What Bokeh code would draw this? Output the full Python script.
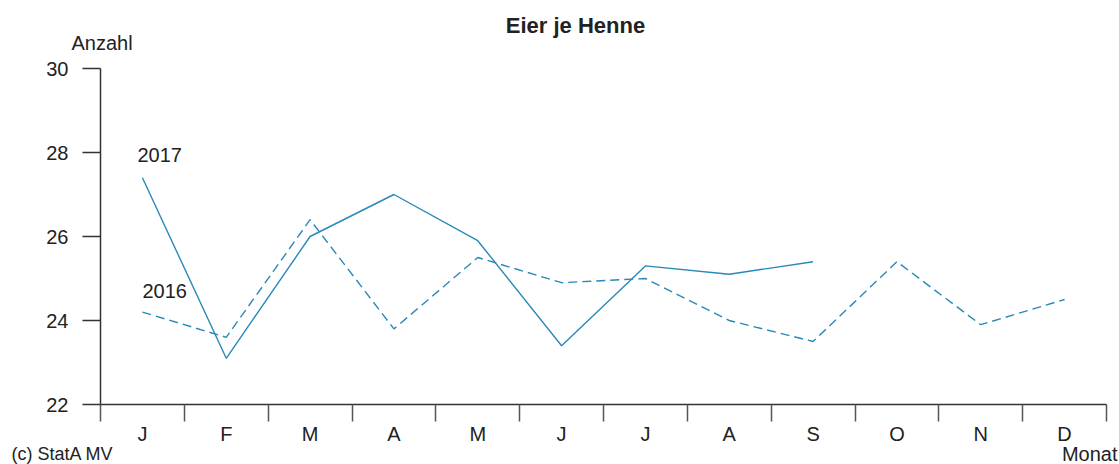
from bokeh.plotting import figure
from bokeh.models import Range1d, FixedTicker, Label
from bokeh.embed import file_html
from bokeh.resources import INLINE

months = ["J", "F", "M", "A", "M", "J", "J", "A", "S", "O", "N", "D"]
eggs_2017 = [27.4, 23.1, 26.0, 27.0, 25.9, 23.4, 25.3, 25.1, 25.4]
eggs_2016 = [24.2, 23.6, 26.4, 23.8, 25.5, 24.9, 25.0, 24.0, 23.5, 25.4, 23.9, 24.5]
y_ticks = [22, 24, 26, 28, 30]

FONT = "Liberation Sans"
TXT = "#222222"
LINE = "#2a88b8"

W, H = 1119, 464
# plotting area (axes box) in canvas pixels
FL, FR, FT, FB = 100, 1106, 68, 404
X0, X1 = -0.5, len(months) - 0.5
Y0, Y1 = y_ticks[0], y_ticks[-1]
sx = (X1 - X0) / (FR - FL)
sy = (Y1 - Y0) / (FB - FT)

# frame covers the whole canvas so that no text is clipped; axes are pinned inside it
p = figure(width=W, height=H, output_backend="svg", toolbar_location=None,
           x_range=Range1d(X0 - FL * sx, X1 + (W - FR) * sx),
           y_range=Range1d(Y0 - (H - FB) * sy, Y1 + FT * sy),
           min_border=0, min_border_left=0, min_border_right=0,
           min_border_top=0, min_border_bottom=0)
p.grid.visible = False
p.outline_line_color = None
p.background_fill_color = "white"
p.border_fill_color = "white"

centers = list(range(len(months)))
bounds = [i - 0.5 for i in range(len(months) + 1)]

xa = p.xaxis[0]
xa.fixed_location = Y0
xa.bounds = (X0, X1)
xa.ticker = FixedTicker(ticks=centers, minor_ticks=bounds)
xa.major_label_overrides = {i: m for i, m in enumerate(months)}
xa.major_tick_out = 0
xa.major_tick_in = 0
xa.minor_tick_out = 17
xa.minor_tick_in = 0
xa.minor_tick_line_color = "#555555"
xa.minor_tick_line_width = 1.5
xa.axis_line_color = "#333333"
xa.axis_line_width = 1.5
xa.major_label_standoff = 1
xa.major_label_text_font = FONT
xa.major_label_text_font_size = "20px"
xa.major_label_text_color = TXT

ya = p.yaxis[0]
ya.fixed_location = X0
ya.bounds = (Y0, Y1)
ya.ticker = FixedTicker(ticks=y_ticks, minor_ticks=[])
ya.major_tick_out = 18
ya.major_tick_in = 0
ya.major_tick_line_color = "#333333"
ya.major_tick_line_width = 1.5
ya.axis_line_color = "#333333"
ya.axis_line_width = 1.5
ya.major_label_standoff = 14
ya.major_label_text_font = FONT
ya.major_label_text_font_size = "20px"
ya.major_label_text_color = TXT

p.line(list(range(len(eggs_2016))), eggs_2016, line_color=LINE, line_width=1.4, line_dash="9 5")
p.line(list(range(len(eggs_2017))), eggs_2017, line_color=LINE, line_width=1.4)

def lab(x, y, t, size="20px", align="left", style="normal", units="canvas"):
    p.add_layout(Label(x=x, y=y, text=t, text_font=FONT, text_font_size=size,
                       text_color=TXT, text_align=align, text_baseline="alphabetic",
                       text_font_style=style, x_units=units, y_units=units))

lab(575, 25, "Eier je Henne", size="22px", align="center", style="bold")
lab(71, 42, "Anzahl")
lab(1117, 453, "Monat", align="right")
lab(11, 453, "(c) StatA MV", size="18px")
lab(-0.06, 27.95, "2017", units="data")
lab(0.0, 24.71, "2016", units="data")

open("out.html", "w").write(file_html(p, INLINE))
